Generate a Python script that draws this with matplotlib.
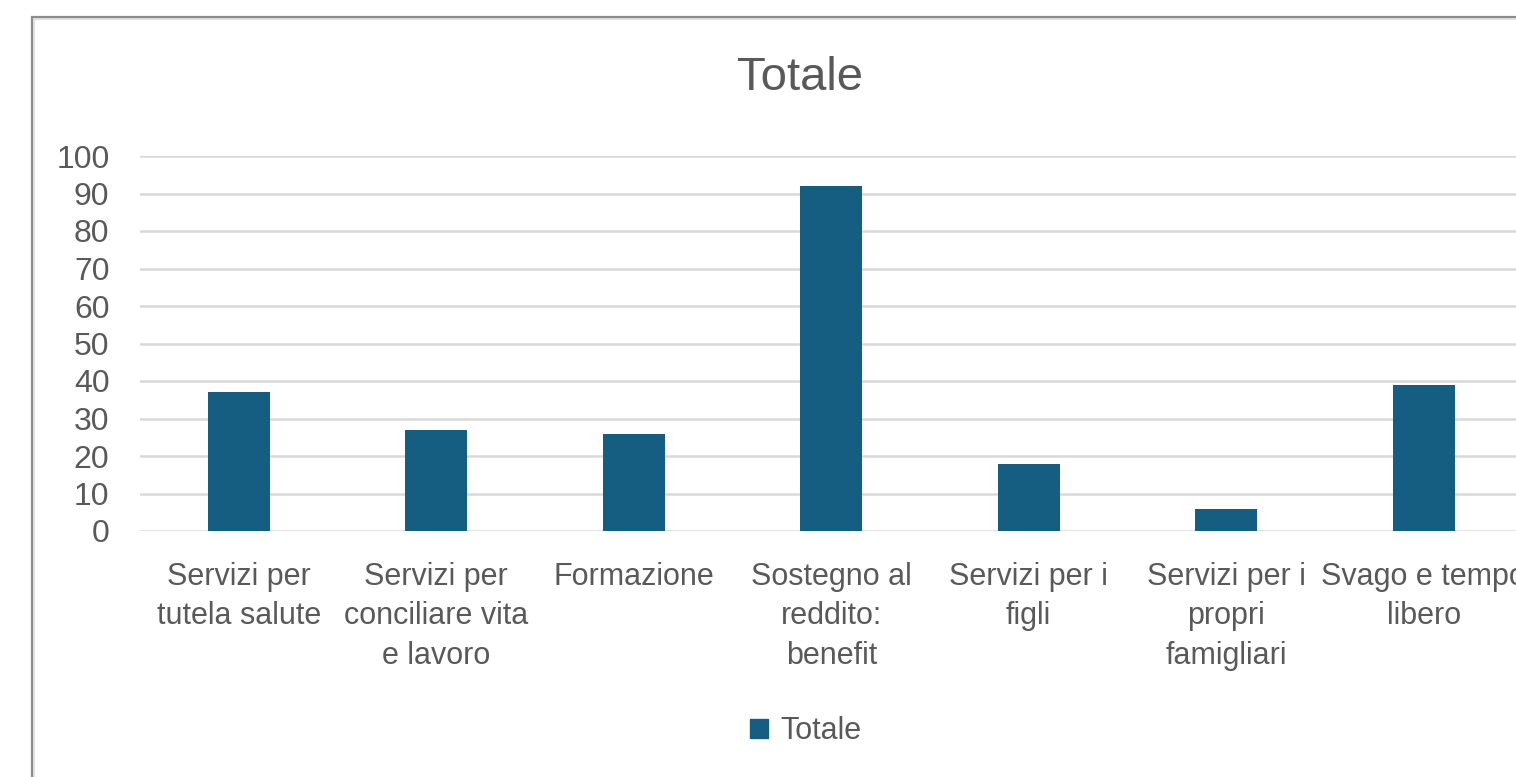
import matplotlib
matplotlib.use("Agg")
import matplotlib.pyplot as plt
from matplotlib.patches import Rectangle, Patch

categories = ["Servizi per\ntutela salute", "Servizi per\nconciliare vita\ne lavoro",
              "Formazione", "Sostegno al\nreddito:\nbenefit", "Servizi per i\nfigli",
              "Servizi per i\npropri\nfamigliari", "Svago e tempo\nlibero"]
values = [37, 27, 26, 92, 18, 6, 39]
yticks = [0, 10, 20, 30, 40, 50, 60, 70, 80, 90, 100]
series_name = "Totale"

BAR = "#165e81"
TXT = "#595959"
GRID = "#d9d9d9"
W, H = 1516, 777

plt.rcParams["font.family"] = ["Liberation Sans", "DejaVu Sans"]
fig = plt.figure(figsize=(W / 100, H / 100), dpi=100)

# chart frame (cut by the image on the right)
fig.patches.append(Rectangle((32 / W, -0.1), 1.2, (H - 17) / H + 0.1, transform=fig.transFigure,
                             fill=False, edgecolor="#8c8c8c", lw=1.6))
fig.patches.append(Rectangle((34 / W, -0.1), 1.2, (H - 19) / H + 0.1, transform=fig.transFigure,
                             fill=False, edgecolor="#d9d9d9", lw=1.2))

x0, x1, y0, y1 = 140, 1522.5, 531, 156
ax = fig.add_axes([x0 / W, (H - y0) / H, (x1 - x0) / W, (y0 - y1) / H])
xs = range(len(values))
ax.bar(xs, values, width=62 / 197.5, color=BAR, zorder=3)
ax.set_xlim(-0.5, len(values) - 0.5)
ax.set_ylim(0, 100)
ax.set_yticks(yticks)
ax.set_xticks(list(xs))
ax.set_xticklabels(categories, fontsize=22, color=TXT, linespacing=1.42)
ax.tick_params(axis="y", length=0, pad=22, labelsize=23, labelcolor=TXT)
ax.tick_params(axis="x", length=0, pad=22)
for s in ax.spines.values():
    s.set_visible(False)
ax.yaxis.grid(True, color=GRID, lw=1.8, zorder=0)
ax.set_axisbelow(True)

fig.text(800 / W, 1 - 78 / H, "Totale", ha="center", va="center", fontsize=34, color=TXT)
fig.legend(handles=[Patch(color=BAR, label=series_name)], loc="center",
           bbox_to_anchor=(806 / W, 1 - 731 / H), frameon=False, fontsize=22,
           labelcolor=TXT, handlelength=0.6, handleheight=0.6, handletextpad=0.4)

fig.savefig("out.png", dpi=100)
